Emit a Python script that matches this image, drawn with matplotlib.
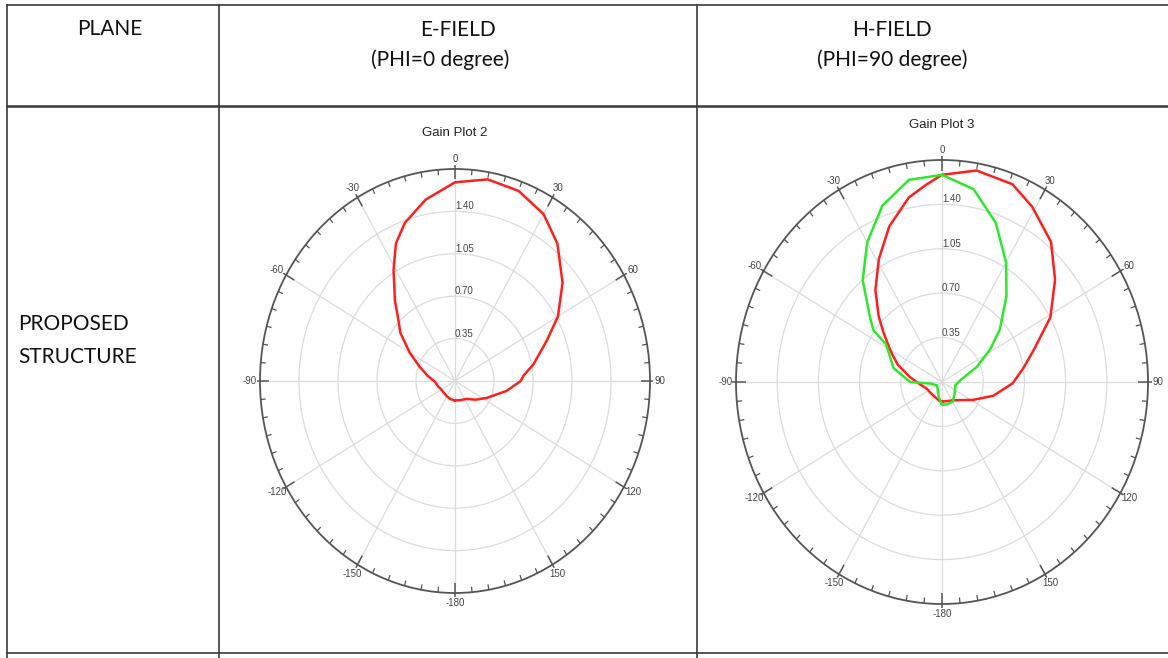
import numpy as np
import matplotlib.pyplot as plt
from matplotlib.lines import Line2D

W, H = 1168, 658

# Gain Plot 2 : E-field (PHI = 0 degree), red trace
e_theta = [-180, -165, -150, -135, -120, -105, -92, -80, -70, -60, -51, -45, -39, -31,
           -25, -19, -10, 0, 10, 20, 30, 39, 50, 60, 68, 79, 86, 90, 100, 116, 130,
           145, 165, 180]
e_gain = [0.16, 0.155, 0.146, 0.140, 0.142, 0.160, 0.18, 0.25, 0.335, 0.47, 0.63, 0.72,
          0.857, 1.071, 1.254, 1.381, 1.52, 1.64, 1.69, 1.67, 1.59, 1.46, 1.26, 1.067,
          0.888, 0.717, 0.615, 0.59, 0.47, 0.318, 0.24, 0.18, 0.165, 0.16]

# Gain Plot 3 : H-field (PHI = 90 degree), red and green traces
h_theta_red = [-180, -174, -153, -130, -112, -95, -82, -70, -64, -60, -52, -46, -38, -29,
               -20, -11, -5, 0, 10, 21, 29, 40, 50, 61, 72, 81, 91, 104, 118, 146, 180]
h_gain_red = [0.155, 0.154, 0.133, 0.13, 0.14, 0.19, 0.275, 0.40, 0.46, 0.509, 0.63,
              0.748, 0.919, 1.107, 1.307, 1.481, 1.56, 1.633, 1.693, 1.67, 1.58, 1.441,
              1.254, 1.053, 0.82, 0.70, 0.60, 0.449, 0.30, 0.174, 0.155]

h_theta_green = [-180, -166, -159, -122, -97, -90, -75, -58, -55, -50, -40, -30, -20, -10,
                 0, 10, 20, 30, 39, 50, 58, 68, 85, 103, 127, 149, 167, 180]
h_gain_green = [0.177, 0.122, 0.088, 0.05, 0.10, 0.27, 0.426, 0.56, 0.711, 0.80, 1.048,
                1.271, 1.48, 1.618, 1.633, 1.544, 1.335, 1.089, 0.87, 0.64, 0.48, 0.32,
                0.156, 0.116, 0.137, 0.179, 0.182, 0.177]

r_ticks = [0.35, 0.70, 1.05, 1.40]
r_labels = ['0.35', '0.70', '1.05', '1.40']
r_max = 1.75
theta_ticks = [0, 30, 60, 90, 120, 150, 180, 210, 240, 270, 300, 330]
theta_labels = ['0', '30', '60', '90', '120', '150', '-180', '-150', '-120', '-90', '-60', '-30']
theta_minor = [a for a in range(0, 360, 5) if a % 30]

RED = '#ff1f1f'
GREEN = '#2ee82e'
LINE = '#3a3a3a'
TABLE_FONT = ['Lato', 'DejaVu Sans']
PLOT_FONT = ['Liberation Sans', 'DejaVu Sans']

fig = plt.figure(figsize=(W / 100, H / 100), dpi=100)
fig.patch.set_facecolor('white')


def fx(x):
    return x / W


def fy(y):
    return 1 - y / H


def polar_box(cx, cy, rx, ry):
    ax = fig.add_axes([fx(cx - rx), fy(cy + ry), 2 * rx / W, 2 * ry / H], projection='polar')
    ax.set_aspect('auto')
    ax.set_theta_zero_location('N')
    ax.set_theta_direction(-1)
    ax.set_rlim(0, r_max)
    ax.set_rgrids(r_ticks, labels=r_labels, fontsize=7, color='#444', family=PLOT_FONT)
    ax.set_rlabel_position(0)
    ax.set_thetagrids(theta_ticks, theta_labels, fontsize=7, color='#444', family=PLOT_FONT)
    ax.tick_params(axis='x', which='major', length=0, pad=0.5)
    ax.grid(color='#dcdcdc', linewidth=0.9)
    ax.spines['polar'].set_color('#555')
    ax.spines['polar'].set_linewidth(1.3)
    # tick marks round the rim
    ax.vlines(np.deg2rad(theta_minor), r_max - 0.045, r_max, color='#555', lw=0.9,
              clip_on=False)
    ax.vlines(np.deg2rad(theta_ticks), r_max - 0.085, r_max + 0.03, color='#555', lw=1.1,
              clip_on=False)
    ax.set_rlim(0, r_max)
    return ax


ax1 = polar_box(455, 381, 195, 212)
ax1.plot(np.deg2rad(e_theta), e_gain, color=RED, lw=1.8)
ax1.text(0.5, 1 + 36 / 424, 'Gain Plot 2', transform=ax1.transAxes, ha='center', va='center',
         fontsize=9.5, color='#222', family=PLOT_FONT)

ax2 = polar_box(942, 382, 206, 222)
ax2.plot(np.deg2rad(h_theta_red), h_gain_red, color=RED, lw=1.8)
ax2.plot(np.deg2rad(h_theta_green), h_gain_green, color=GREEN, lw=1.8)
ax2.text(0.5, 1 + 35 / 444, 'Gain Plot 3', transform=ax2.transAxes, ha='center', va='center',
         fontsize=9.5, color='#222', family=PLOT_FONT)

# table frame
for (x0, y0, x1, y1, lw) in [(7, 5, W, 5, 1.2), (7, 106, W, 106, 1.8), (7, 653, W, 653, 1.2),
                             (7, 5, 7, H, 1.2), (219, 5, 219, H, 1.2), (697, 5, 697, H, 1.2)]:
    fig.add_artist(Line2D([fx(x0), fx(x1)], [fy(y0), fy(y1)], transform=fig.transFigure,
                          color=LINE, lw=lw))

cell_text = [('PLANE', 110, 35, 'center'), ('E-FIELD', 458, 36, 'center'),
             ('(PHI=0 degree)', 440, 66, 'center'), ('H-FIELD', 892, 36, 'center'),
             ('(PHI=90 degree)', 892, 66, 'center'), ('PROPOSED', 18, 330, 'left'),
             ('STRUCTURE', 18, 363, 'left')]
for s, x, y, ha in cell_text:
    fig.text(fx(x), fy(y), s, ha=ha, va='baseline', fontsize=15, color='#111',
             family=TABLE_FONT)

fig.savefig('out.png', dpi=100)
